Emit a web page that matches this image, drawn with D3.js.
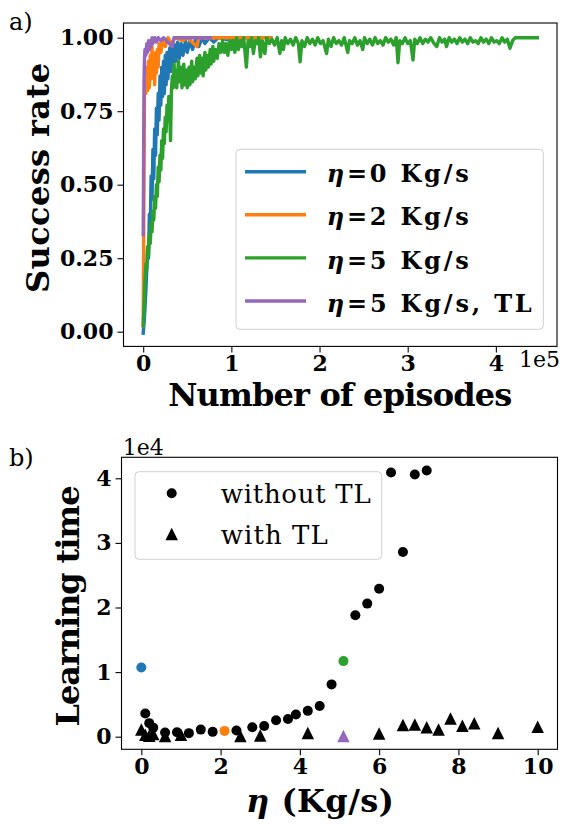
<!DOCTYPE html>
<html>
<head>
<meta charset="utf-8">
<script src="https://cdn.jsdelivr.net/npm/d3@7"></script>
<style>
  html, body { margin: 0; padding: 0; background: #fff; }
  svg { display: block; font-family: "DejaVu Serif", serif; }
</style>
</head>
<body>
<svg id="chart" width="564" height="825"></svg>
<script>
// ---- panel a) learning curves: [thousands of episodes, success rate] ----
const blueCurve = [
  [0,-0.005],[1,0.03],[2,0.08],[3,0.14],[4,0.21],[5,0.28],[6,0.25],[7,0.40],[8,0.35],[9,0.53],
  [10,0.45],[11,0.62],[12,0.52],[13,0.69],[14,0.60],[15,0.76],[16,0.67],[17,0.81],[18,0.72],[19,0.87],
  [20,0.77],[21,0.90],[22,0.80],[23,0.92],[24,0.81],[25,0.94],[26,0.84],[27,0.95],[28,0.86],[30,0.965],
  [31,0.885],[33,0.96],[34,0.90],[36,0.975],[37,0.92],[39,0.985],[41,0.93],[43,0.98],[45,0.94],[48,0.99],
  [50,0.95],[53,0.99],[56,0.96],[60,1.0],[63,0.97],[67,1.0],[70,0.98],[75,1.0],[80,0.985],[85,1.0],
  [100,0.99],[105,1.0],[108,0.97],[111,1.0],[120,1.0]
];
const orangeCurve = [
  [0,0.02],[0.7,0.40],[1.4,0.80],[2,0.86],[3,0.81],[4,0.90],[5,0.82],[6,0.92],[7,0.83],[8,0.94],
  [9,0.86],[10,0.97],[11,0.87],[12,0.93],[13,0.84],[14,0.95],[15,0.88],[16,0.96],[17,0.90],[18,0.98],
  [20,0.95],[22,0.99],[25,0.97],[28,1.0],[32,0.98],[36,1.0],[45,0.99],[50,1.0],[61,0.97],[63,1.0],
  [145,1.0]
];
const greenCurve = [
  [0,0.02],[1,0.09],[2,0.17],[3,0.23],[4,0.21],[5,0.29],[6,0.26],[7,0.33],[8,0.30],[9,0.37],
  [10,0.34],[11,0.41],[12,0.38],[13,0.46],[14,0.42],[15,0.50],[16,0.46],[17,0.56],[18,0.51],[19,0.60],
  [20,0.55],[21,0.65],[22,0.59],[23,0.69],[24,0.64],[25,0.73],[26,0.68],[27,0.77],[28,0.72],[29,0.80],
  [30,0.75],[31,0.65],[32,0.82],[33,0.87],[34,0.83],[35,0.91],[36,0.84],[37,0.89],[38,0.83],[40,0.92],
  [41,0.85],[43,0.90],[44,0.83],[46,0.91],[47,0.84],[49,0.89],[50,0.83],[52,0.90],[53,0.84],[55,0.92],
  [56,0.85],[58,0.90],[59,0.86],[61,0.93],[62,0.87],[64,0.94],[65,0.88],[67,0.93],[68,0.87],[70,0.95],
  [71,0.89],[73,0.94],[74,0.90],[76,0.96],[77,0.91],[79,0.97],[80,0.92],[82,0.96],[84,0.93],[86,0.98],
  [88,0.95],[90,0.99],[92,0.95],[94,0.98],[96,0.94],[98,0.99],[100,0.96],[102,0.99],[104,0.95],[106,1.0],
  [108,0.96],[110,0.99],[112,0.97],[114,1.0],[117,0.90],[119,0.99],[121,0.97],[123,1.0],[125,0.946],[127,0.99],
  [129,0.98],[131,1.0],[133,0.935],[135,0.99],[138,0.946],[140,1.0],[143,0.98],[146,0.995],[149,0.975],[152,1.0],
  [155,0.946],[157,0.99],[159,0.96],[161,1.0],[164,0.98],[167,0.995],[170,0.975],[173,1.0],[176,0.98],[178,0.918],
  [180,0.99],[183,0.97],[186,1.0],[189,0.98],[192,0.995],[195,0.975],[198,1.0],[201,0.98],[204,0.99],[208,0.946],
  [210,0.995],[213,0.97],[216,1.0],[219,0.98],[222,0.99],[225,0.975],[228,1.0],[232,0.95],[234,0.99],[237,0.98],
  [240,1.0],[243,0.975],[246,0.99],[249,0.96],[251,1.0],[254,0.98],[257,0.995],[260,0.975],[263,1.0],[266,0.98],
  [269,0.99],[272,0.975],[275,1.0],[278,0.985],[281,0.995],[284,0.975],[287,1.0],[289,0.915],[291,0.99],[294,0.98],
  [297,1.0],[300,0.98],[303,0.99],[306,0.924],[308,0.995],[311,0.98],[314,1.0],[317,0.98],[320,0.995],[323,0.985],
  [326,1.0],[330,0.98],[333,0.97],[336,1.0],[339,0.985],[342,0.995],[344,0.97],[347,1.0],[350,0.985],[353,0.995],
  [356,0.98],[359,1.0],[362,0.985],[365,0.995],[368,0.98],[371,1.0],[374,0.985],[377,0.99],[380,0.98],[383,1.0],
  [386,0.985],[389,0.995],[392,0.98],[395,1.0],[398,0.985],[401,0.99],[404,0.98],[407,1.0],[410,0.985],[413,0.995],
  [416,0.964],[419,0.99],[422,1.0],[447,1.0]
];
const purpleCurve = [
  [0,0.33],[0.5,0.62],[1,0.86],[1.5,0.93],[2,0.96],[3,0.94],[4,0.98],[5,0.95],[6,0.99],[7,0.96],
  [8,0.99],[9,0.97],[10,1.0],[11,0.98],[13,1.0],[15,0.985],[17,1.0],[20,0.99],[23,1.0],[33,0.97],
  [35,1.0],[76,1.0]
];
const curveLabels = ["=0 Kg/s", "=2 Kg/s", "=5 Kg/s", "=5 Kg/s, TL"];
const episodeTicks = [0, 100000, 200000, 300000, 400000];
const rateTicks = [0, 0.25, 0.5, 0.75, 1.0];

// ---- panel b) learning time: [eta (Kg/s), episodes] ----
const withoutTL = [
  [0,10700],[0.1,3600],[0.2,2100],[0.3,1400],[0.6,650],[0.9,700],[1.2,550],[1.5,1100],[1.8,750],
  [2.1,900],[2.4,950],[2.8,1450],[3.1,1650],[3.4,2550],[3.7,2750],[3.9,3450],[4.2,4000],[4.5,4750],
  [4.8,8100],[5.1,11700],[5.4,18800],[5.7,20600],[6.0,22900],[6.3,40900],[6.6,28600],[6.9,40600],[7.2,41200]
];
const withTL = [
  [0,1100],[0.1,300],[0.2,150],[0.3,400],[0.6,100],[1.0,300],[2.5,100],[3.0,200],[4.2,570],
  [5.1,100],[6.0,500],[6.6,1800],[6.9,1900],[7.2,1450],[7.5,1100],[7.8,2800],[8.1,1700],[8.4,2100],
  [9.0,570],[10.0,1550]
];
const scatterLabels = ["without TL", "with TL"];
const etaTicks = [0, 2, 4, 6, 8, 10];
const timeTicks = [0, 10000, 20000, 30000, 40000];

// ---- styling ----
const curveColors = ["#1f77b4", "#ff7f0e", "#2ca02c", "#9467bd"];
const withoutColor = { "0": "#1f77b4", "2.1": "#ff7f0e", "5.1": "#2ca02c" };
const withColor = { "5.1": "#9467bd" };

const svg = d3.select("#chart");

function styleAxis(g) {
  g.attr("font-family", "DejaVu Serif, serif").attr("font-size", 22).attr("font-weight", "bold");
  g.select(".domain").remove();
  g.selectAll(".tick line").attr("stroke", "#000").attr("stroke-width", 1.1);
  g.selectAll(".tick text").attr("fill", "#000");
}

function frame(box) {
  svg.append("rect")
    .attr("x", box.left).attr("y", box.top)
    .attr("width", box.right - box.left).attr("height", box.bottom - box.top)
    .attr("fill", "none").attr("stroke", "#000").attr("stroke-width", 1.1);
}

function triangle(w, h) {
  return `M0,${-h / 2}L${w / 2},${h / 2}L${-w / 2},${h / 2}Z`;
}

// ================= panel a =================
const boxA = { left: 123.5, right: 557, top: 23, bottom: 346.4 };
const xA = d3.scaleLinear().domain([-22350, 469350]).range([boxA.left, boxA.right]);
const yA = d3.scaleLinear().domain([-0.05, 1.05]).range([boxA.bottom, boxA.top]);

svg.append("g")
  .attr("transform", `translate(0,${boxA.bottom})`)
  .call(d3.axisBottom(xA).tickValues(episodeTicks).tickFormat(d => d / 1e5).tickSize(6).tickPadding(3))
  .call(styleAxis);
svg.append("g")
  .attr("transform", `translate(${boxA.left},0)`)
  .call(d3.axisLeft(yA).tickValues(rateTicks).tickFormat(d3.format(".2f")).tickSize(6).tickPadding(4))
  .call(styleAxis);

const lineA = d3.line().x(d => xA(d[0] * 1000)).y(d => yA(d[1]));
[blueCurve, orangeCurve, greenCurve, purpleCurve].forEach((curve, i) => {
  svg.append("path")
    .datum(curve)
    .attr("d", lineA)
    .attr("fill", "none")
    .attr("stroke", curveColors[i])
    .attr("stroke-width", 3.4)
    .attr("stroke-linejoin", "round")
    .attr("stroke-linecap", "square");
});
frame(boxA);

// legend a
const legA = svg.append("g");
legA.append("rect")
  .attr("x", 236).attr("y", 149.3).attr("width", 307.3).attr("height", 180).attr("rx", 4)
  .attr("fill", "#fff").attr("fill-opacity", 0.8).attr("stroke", "#d0d0d0").attr("stroke-width", 1);
const legAWidths = [142, 142, 142, 205];
curveLabels.forEach((label, i) => {
  const y = 171.7 + i * 43.1;
  legA.append("line")
    .attr("x1", 245).attr("x2", 306).attr("y1", y).attr("y2", y)
    .attr("stroke", curveColors[i]).attr("stroke-width", 3.4);
  const t = legA.append("text")
    .attr("x", 326.7).attr("y", y + 10.6)
    .attr("font-size", 24).attr("font-weight", "bold")
    .attr("textLength", legAWidths[i]);
  t.append("tspan").attr("font-style", "italic").text("η");
  t.append("tspan").text(label);
});

svg.append("text").attr("x", 560).attr("y", 367).attr("text-anchor", "end")
  .attr("font-size", 22).text("1e5");
svg.append("text").attr("x", 340.2).attr("y", 406).attr("text-anchor", "middle")
  .attr("font-size", 32).attr("font-weight", "bold").attr("textLength", 344)
  .text("Number of episodes");
svg.append("text").attr("transform", "translate(49,178) rotate(-90)").attr("text-anchor", "middle")
  .attr("font-size", 32).attr("font-weight", "bold").attr("textLength", 230)
  .text("Success rate");
svg.append("text").attr("x", 9).attr("y", 30).attr("font-size", 24).text("a)");

// ================= panel b =================
const boxB = { left: 121.5, right: 557.5, top: 457.3, bottom: 749.3 };
const xB = d3.scaleLinear().domain([-0.5, 10.5]).range([boxB.left, boxB.right]);
const yB = d3.scaleLinear().domain([-1950, 43250]).range([boxB.bottom, boxB.top]);

svg.append("g")
  .attr("transform", `translate(0,${boxB.bottom})`)
  .call(d3.axisBottom(xB).tickValues(etaTicks).tickFormat(d3.format("d")).tickSize(6).tickPadding(3))
  .call(styleAxis);
svg.append("g")
  .attr("transform", `translate(${boxB.left},0)`)
  .call(d3.axisLeft(yB).tickValues(timeTicks).tickFormat(d => d / 1e4).tickSize(6).tickPadding(4))
  .call(styleAxis);

svg.append("g").selectAll("circle")
  .data(withoutTL)
  .join("circle")
  .attr("cx", d => xB(d[0]))
  .attr("cy", d => yB(d[1]))
  .attr("r", 5)
  .attr("fill", d => withoutColor[d[0]] || "#000");

svg.append("g").selectAll("path")
  .data(withTL)
  .join("path")
  .attr("transform", d => `translate(${xB(d[0])},${yB(d[1])})`)
  .attr("d", triangle(12.5, 12.5))
  .attr("fill", d => withColor[d[0]] || "#000");
frame(boxB);

// legend b
const legB = svg.append("g");
legB.append("rect")
  .attr("x", 135).attr("y", 471.7).attr("width", 246.7).attr("height", 87.6).attr("rx", 4)
  .attr("fill", "#fff").attr("fill-opacity", 0.8).attr("stroke", "#d0d0d0").attr("stroke-width", 1);
legB.append("circle").attr("cx", 171.7).attr("cy", 493.3).attr("r", 5).attr("fill", "#000");
legB.append("path").attr("transform", "translate(171.7,534)").attr("d", triangle(12.5, 12.5)).attr("fill", "#000");
const legBWidths = [150, 107];
scatterLabels.forEach((label, i) => {
  legB.append("text")
    .attr("x", 220.7).attr("y", 503.3 + i * 40.3)
    .attr("font-size", 26).attr("textLength", legBWidths[i])
    .text(label);
});

svg.append("text").attr("x", 122.7).attr("y", 455).attr("font-size", 22).text("1e4");
const xlabB = svg.append("text").attr("x", 320).attr("y", 812).attr("text-anchor", "middle")
  .attr("font-size", 32).attr("font-weight", "bold").attr("textLength", 148);
xlabB.append("tspan").attr("font-style", "italic").text("η");
xlabB.append("tspan").text(" (Kg/s)");
svg.append("text").attr("transform", "translate(79,606) rotate(-90)").attr("text-anchor", "middle")
  .attr("font-size", 32).attr("font-weight", "bold").attr("textLength", 241)
  .text("Learning time");
svg.append("text").attr("x", 9).attr("y", 466).attr("font-size", 24).text("b)");
</script>
</body>
</html>
